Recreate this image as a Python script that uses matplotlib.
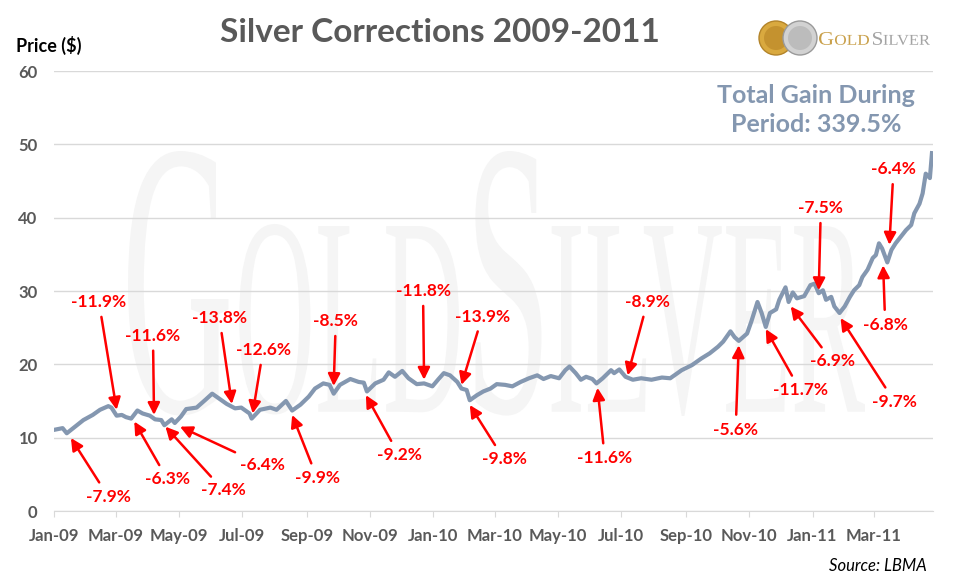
import numpy as np
import pandas as pd
import matplotlib
matplotlib.use('Agg')
import matplotlib.pyplot as plt
import matplotlib.dates as mdates
import matplotlib.transforms as mtrans
from matplotlib.textpath import TextPath
from matplotlib.font_manager import FontProperties
from matplotlib.patches import PathPatch, Circle
from matplotlib.path import Path

# silver price (LBMA)
dates = ['2009-01-02', '2009-01-09', '2009-01-13', '2009-01-21', '2009-01-29', '2009-02-07',
         '2009-02-14', '2009-02-22', '2009-02-25', '2009-03-02', '2009-03-07', '2009-03-11',
         '2009-03-16', '2009-03-22', '2009-03-27', '2009-04-03', '2009-04-08', '2009-04-14',
         '2009-04-17', '2009-04-24', '2009-04-27', '2009-05-03', '2009-05-08', '2009-05-18',
         '2009-05-26', '2009-06-02', '2009-06-08', '2009-06-16', '2009-06-24', '2009-06-30',
         '2009-07-08', '2009-07-10', '2009-07-18', '2009-07-28', '2009-08-03', '2009-08-12',
         '2009-08-18', '2009-08-26', '2009-09-03', '2009-09-09', '2009-09-17', '2009-09-23',
         '2009-09-27', '2009-10-03', '2009-10-13', '2009-10-21', '2009-10-26', '2009-10-29',
         '2009-11-06', '2009-11-14', '2009-11-19', '2009-11-25', '2009-12-02', '2009-12-08',
         '2009-12-16', '2009-12-23', '2009-12-31', '2010-01-06', '2010-01-11', '2010-01-17',
         '2010-01-24', '2010-01-28', '2010-02-02', '2010-02-05', '2010-02-12', '2010-02-18',
         '2010-02-25', '2010-03-03', '2010-03-11', '2010-03-18', '2010-03-26', '2010-04-03',
         '2010-04-11', '2010-04-17', '2010-04-24', '2010-05-02', '2010-05-08', '2010-05-12',
         '2010-05-18', '2010-05-23', '2010-05-28', '2010-06-03', '2010-06-07', '2010-06-13',
         '2010-06-21', '2010-06-24', '2010-06-29', '2010-07-05', '2010-07-12', '2010-07-20',
         '2010-07-30', '2010-08-09', '2010-08-17', '2010-08-21', '2010-08-28', '2010-09-07',
         '2010-09-16', '2010-09-24', '2010-10-02', '2010-10-07', '2010-10-14', '2010-10-18',
         '2010-10-22', '2010-10-30', '2010-11-03', '2010-11-09', '2010-11-13', '2010-11-17',
         '2010-11-21', '2010-11-27', '2010-11-30', '2010-12-06', '2010-12-09', '2010-12-13',
         '2010-12-17', '2010-12-24', '2010-12-30', '2011-01-03', '2011-01-07', '2011-01-11',
         '2011-01-14', '2011-01-19', '2011-01-22', '2011-01-27', '2011-02-01', '2011-02-06',
         '2011-02-10', '2011-02-15', '2011-02-18', '2011-02-23', '2011-02-28', '2011-03-03',
         '2011-03-06', '2011-03-09', '2011-03-14', '2011-03-18', '2011-03-22', '2011-03-27',
         '2011-04-01', '2011-04-06', '2011-04-09', '2011-04-14', '2011-04-17', '2011-04-20',
         '2011-04-24', '2011-04-26']
prices = [11.1, 11.3, 10.6, 11.5, 12.4, 13.1,
          13.8, 14.3, 14.1, 13.0, 13.1, 12.8,
          12.6, 13.7, 13.3, 13.0, 12.5, 12.4,
          11.7, 12.5, 12.0, 12.9, 13.9, 14.1,
          15.1, 16.0, 15.4, 14.6, 14.0, 14.1,
          13.3, 12.6, 13.8, 14.1, 13.8, 15.0,
          13.7, 14.5, 15.6, 16.7, 17.4, 17.2,
          16.0, 17.2, 18.0, 17.6, 17.5, 16.3,
          17.4, 17.9, 18.9, 18.3, 19.1, 18.1,
          17.3, 17.4, 17.0, 18.0, 18.8, 18.5,
          17.6, 16.7, 16.5, 15.1, 15.8, 16.3,
          16.7, 17.3, 17.2, 17.0, 17.6, 18.1,
          18.5, 18.0, 18.4, 18.1, 19.2, 19.7,
          18.8, 17.9, 18.3, 18.0, 17.4, 18.1,
          19.2, 18.8, 19.3, 18.3, 17.9, 18.1,
          17.9, 18.2, 18.1, 18.5, 19.2, 19.9,
          20.8, 21.5, 22.4, 23.1, 24.5, 23.7,
          23.2, 24.2, 25.8, 28.5, 27.0, 25.1,
          27.0, 27.5, 28.8, 30.5, 28.5, 29.8,
          29.0, 29.3, 30.8, 31.0, 29.7, 30.1,
          28.8, 29.2, 27.9, 27.0, 27.9, 29.2,
          30.1, 30.8, 31.9, 32.9, 34.5, 34.9,
          36.5, 35.8, 33.9, 35.6, 36.5, 37.4,
          38.3, 39.0, 40.6, 41.9, 43.3, 46.0,
          45.4, 48.8]

# corrections: label, arrow tip (date, value), label centre (date, value)
labels = ['-7.9%', '-11.9%', '-6.3%', '-11.6%', '-7.4%', '-6.4%', '-13.8%', '-12.6%',
          '-9.9%', '-8.5%', '-9.2%', '-11.8%', '-13.9%', '-9.8%', '-11.6%', '-8.9%',
          '-5.6%', '-11.7%', '-6.9%', '-7.5%', '-9.7%', '-6.8%', '-6.4%']
tip_dates = ['2009-01-17', '2009-03-02', '2009-03-19', '2009-04-07', '2009-04-18', '2009-05-02',
             '2009-06-21', '2009-07-11', '2009-08-18', '2009-09-27', '2009-10-28', '2009-12-23',
             '2010-01-28', '2010-02-05', '2010-06-08', '2010-07-07', '2010-10-22', '2010-11-17',
             '2010-12-11', '2011-01-07', '2011-01-28', '2011-03-10', '2011-03-16']
tip_values = [9.95, 13.8, 12.2, 13.1, 11.5, 11.5, 14.6, 13.3,
              13.1, 17.05, 15.8, 17.9, 17.2, 14.45, 16.8, 18.5,
              22.6, 24.8, 27.9, 30.1, 26.3, 33.5, 36.3]
text_dates = ['2009-02-22', '2009-02-13', '2009-04-20', '2009-04-06', '2009-06-13', '2009-07-20',
              '2009-06-09', '2009-07-21', '2009-09-11', '2009-09-29', '2009-11-29', '2009-12-22',
              '2010-02-17', '2010-03-10', '2010-06-15', '2010-07-26', '2010-10-19', '2010-12-20',
              '2011-01-20', '2011-01-09', '2011-03-21', '2011-03-12', '2011-03-20']
text_values = [1.95, 28.5, 4.3, 23.9, 2.8, 6.3, 26.3, 21.95,
               4.5, 25.9, 7.6, 30.0, 26.5, 7.05, 7.2, 28.5,
               11.1, 16.5, 20.4, 41.3, 14.9, 25.4, 46.6]

plt.rcParams['font.family'] = ['Lato', 'DejaVu Sans']

W, H = 957, 585
fig = plt.figure(figsize=(W / 100, H / 100), dpi=100)
ax = fig.add_axes([54.3 / W, 1 - 511 / H, (933 - 54.3) / W, (511 - 71) / H])
ax.set_facecolor('none')
px = mtrans.Affine2D().scale(1 / W, 1 / H) + fig.transFigure


def caps_path(pieces, family, gap=0.04):
    prop = FontProperties(family=family)
    vs, cs = [], []
    x = 0.0
    for s, k in pieces:
        tp = TextPath((x, 0), s, size=k, prop=prop)
        vs.append(tp.vertices)
        cs.append(tp.codes)
        x = tp.get_extents().x1 + gap
    return Path(np.vstack(vs), np.concatenate(cs))


def fit(path, x0, x1, top, bottom):
    e = path.get_extents()
    return (mtrans.Affine2D().translate(-e.x0, -e.y0)
            .scale((x1 - x0) / e.width, (bottom - top) / e.height)
            .translate(x0, H - bottom) + px)


# watermark
wm = caps_path([('G', 1), ('OLD', 0.72), ('S', 1), ('ILVER', 0.72)], 'Liberation Serif')
fig.add_artist(PathPatch(wm, transform=fit(wm, 128, 865, 151, 416),
                         facecolor='#f5f5f5', edgecolor='none', zorder=-1))

# logo
fig.add_artist(Circle((776, H - 38), 17, transform=px, facecolor='#d9a93f',
                      edgecolor='#b3842a', lw=1))
fig.add_artist(Circle((776, H - 38), 12, transform=px, facecolor='#c4922f',
                      edgecolor='none'))
fig.add_artist(Circle((800, H - 38), 17, transform=px, facecolor='#d2d2d2',
                      edgecolor='#9a9a9a', lw=1))
fig.add_artist(Circle((800, H - 38), 12, transform=px, facecolor='#bcbcbc',
                      edgecolor='none'))
gold = caps_path([('G', 1), ('OLD', 0.78)], 'Liberation Serif')
silver = caps_path([('S', 1), ('ILVER', 0.78)], 'Liberation Serif')
fig.add_artist(PathPatch(gold, transform=fit(gold, 819, 869, 32, 45),
                         facecolor='#c9a04a', edgecolor='none'))
fig.add_artist(PathPatch(silver, transform=fit(silver, 873, 930, 32, 45),
                         facecolor='#a3a3a3', edgecolor='none'))

x = pd.to_datetime(dates)
ax.plot(x, prices, color='#8497b0', lw=3, solid_joinstyle='round', zorder=3)

for lab, td, tv, xd, xv in zip(labels, tip_dates, tip_values, text_dates, text_values):
    ax.annotate(lab, xy=(pd.Timestamp(td), tv), xytext=(pd.Timestamp(xd), xv),
                ha='center', va='center', color='red', fontsize=12.5, fontweight='bold',
                arrowprops=dict(arrowstyle='-|>', color='red', lw=1.8,
                                mutation_scale=18, shrinkA=3, shrinkB=0),
                zorder=4)

ax.set_ylim(0, 60)
ax.set_yticks(range(0, 61, 10))
ax.set_xlim(pd.Timestamp('2009-01-01'), pd.Timestamp('2011-04-27'))
ax.xaxis.set_major_locator(mdates.MonthLocator(bymonth=[1, 3, 5, 7, 9, 11]))
ax.xaxis.set_major_formatter(mdates.DateFormatter('%b-%y'))
ax.grid(axis='y', color='#d9d9d9', lw=1)
ax.set_axisbelow(True)
for s in ['left', 'right', 'top']:
    ax.spines[s].set_visible(False)
ax.spines['bottom'].set_color('#d9d9d9')
ax.tick_params(axis='y', length=0, pad=12, labelsize=12, labelcolor='#595959')
ax.tick_params(axis='x', length=4, color='#d9d9d9', pad=8, labelsize=12,
               labelcolor='#595959')
for t in ax.get_xticklabels() + ax.get_yticklabels():
    t.set_fontweight('bold')

fig.text(440 / W, 1 - 42 / H, 'Silver Corrections 2009-2011', ha='center', va='baseline',
         fontsize=24, fontweight='bold', color='#595959')
fig.text(16 / W, 1 - 52 / H, 'Price ($)', ha='left', va='baseline', fontsize=13,
         fontweight='bold', color='black')
fig.text(816 / W, 1 - 110 / H, 'Total Gain During\nPeriod: 339.5%', ha='center',
         va='center', fontsize=18, fontweight='bold', color='#8497b0', linespacing=1.3)
fig.text(927 / W, 1 - 571 / H, 'Source: LBMA', ha='right', va='baseline', fontsize=12,
         style='italic', color='black')

fig.savefig('out.png', dpi=100)
